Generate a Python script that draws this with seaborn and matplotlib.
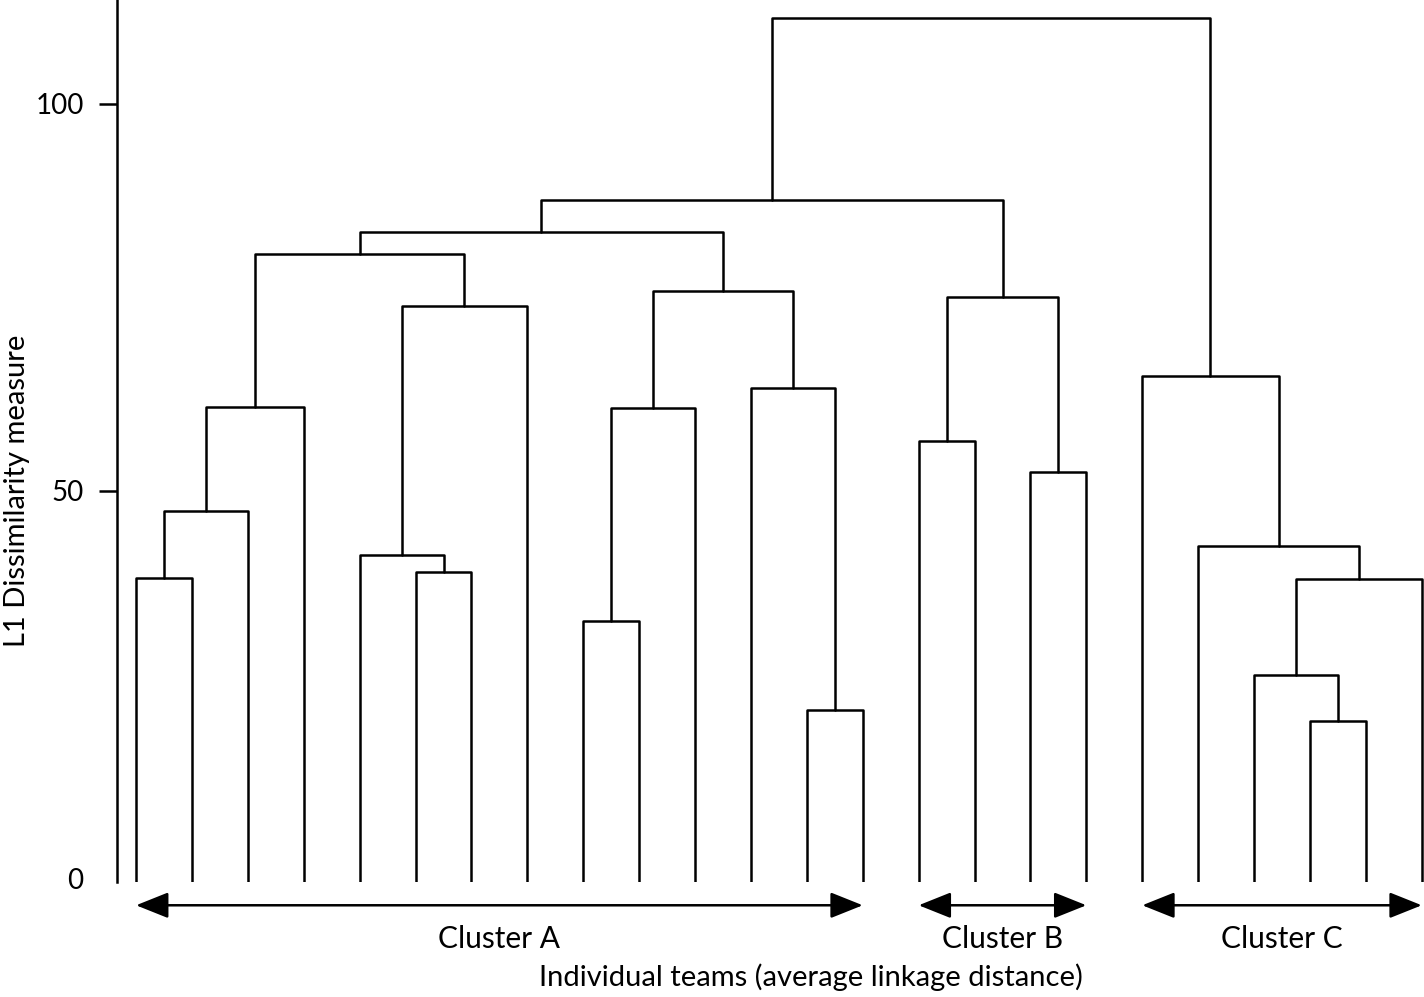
import numpy as np
import pandas as pd
import seaborn as sns
import matplotlib.pyplot as plt

# 24 teams, leaves in dendrogram order
n_teams = 24

# merges: (left node, right node, height); nodes >= n_teams are earlier merges
merge_left = [0, 24, 25, 5, 4, 28, 26, 8, 31, 12, 11, 32, 30, 14, 16, 37, 36, 21, 20, 42, 19, 18, 40]
merge_right = [1, 2, 3, 6, 27, 7, 29, 9, 10, 13, 33, 34, 35, 15, 17, 38, 39, 22, 41, 23, 43, 44, 45]
merge_height = [38.8, 47.4, 60.9, 39.5, 41.7, 73.9, 80.6, 33.2, 60.7, 21.7, 63.3, 75.8,
                83.5, 56.5, 52.4, 75.1, 87.6, 20.3, 26.2, 38.6, 42.9, 64.9, 111.1]

cluster_names = ["Cluster A", "Cluster B", "Cluster C"]
cluster_first = [0, 14, 18]
cluster_last = [13, 17, 23]

y_floor = -0.5

# build U-shaped links for the dendrogram
node_x = {i: float(i) for i in range(n_teams)}
node_y = {i: y_floor for i in range(n_teams)}
rows = []
for k, (a, b, h) in enumerate(zip(merge_left, merge_right, merge_height)):
    xa, xb = node_x[a], node_x[b]
    pts = [(xa, node_y[a]), (xa, h), (xb, h), (xb, node_y[b])]
    for order, (px, py) in enumerate(pts):
        rows.append({"link": k, "order": order, "x": px, "y": py})
    node_x[n_teams + k] = (xa + xb) / 2
    node_y[n_teams + k] = h
links = pd.DataFrame(rows)

sns.set_theme(style="white")
plt.rcParams['font.family'] = ['Lato', 'DejaVu Sans']

fig = plt.figure(figsize=(14.24, 9.97), dpi=100)
ax = fig.add_axes([0.0822, 0.1153, 0.9178, 0.8847])

sns.lineplot(data=links, x="x", y="y", units="link", estimator=None, sort=False,
             color="black", linewidth=1.8, ax=ax, legend=False)

ax.set_xlim(-0.34, 23.04)
ax.set_ylim(y_floor, 113.4)

for sp in ["top", "right", "bottom"]:
    ax.spines[sp].set_visible(False)
ax.spines["left"].set_color("black")
ax.spines["left"].set_linewidth(1.8)

ax.set_xticks([])
ax.set_yticks([0, 50, 100])
ax.set_yticklabels(["0", "50", "100"])
ax.tick_params(axis="y", left=True, length=13, width=1.8, pad=11, labelsize=20, colors="black")
ax.yaxis.get_major_ticks()[0].tick1line.set_visible(False)

# cluster arrows and labels below the leaves
for name, first, last in zip(cluster_names, cluster_first, cluster_last):
    ax.annotate("", xy=(last, -3.5), xytext=(first, -3.5), xycoords="data",
                arrowprops=dict(arrowstyle="<|-|>,head_length=0.5,head_width=0.2",
                                color="black", lw=1.8,
                                mutation_scale=40, shrinkA=0, shrinkB=0),
                annotation_clip=False)
    ax.text((first + last) / 2, -7.9, name, ha="center", va="center",
            fontsize=21.5, color="black", clip_on=False)

ax.set_xlabel("Individual teams (average linkage distance)", fontsize=21, color="black")
ax.xaxis.label.set_va("center")
ax.xaxis.set_label_coords(0.531, -0.1077)
ax.set_ylabel("L1 Dissimilarity measure", fontsize=21, color="black")
ax.yaxis.label.set_va("center")
ax.yaxis.set_label_coords(-0.0765, 0.444)

fig.savefig("out.png", dpi=100)
